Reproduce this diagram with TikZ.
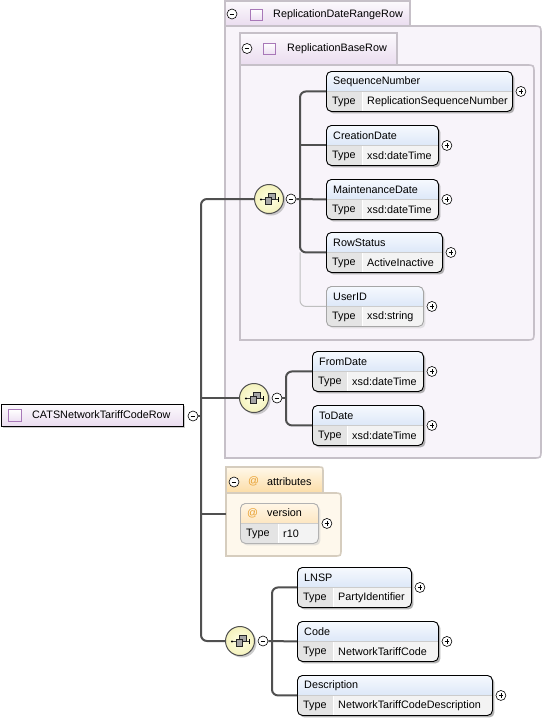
\documentclass[tikz,border=0pt]{standalone}
\usepackage{fontspec}
\setmainfont{Liberation Sans}
\usetikzlibrary{shadows,calc}
\definecolor{conn}{HTML}{505050}
\definecolor{hdtop}{HTML}{F6F9FE}
\definecolor{hdbot}{HTML}{C3D6F2}
\definecolor{typecell}{HTML}{E4E4E4}
\definecolor{valcell}{HTML}{F3F3F3}
\definecolor{attop}{HTML}{FFF6E6}
\definecolor{atbot}{HTML}{FBD69C}
\definecolor{atorange}{HTML}{E8A030}
\definecolor{grpborder}{HTML}{C6C0C8}
\definecolor{grpbody}{HTML}{F8F4FA}
\definecolor{tabtop}{HTML}{FCFAFD}
\definecolor{tabbot}{HTML}{EADCEF}
\definecolor{atgrpborder}{HTML}{D6CDBE}
\definecolor{atgrpbody}{HTML}{FEF8EC}
\definecolor{attabtop}{HTML}{FFF8EA}
\definecolor{attabbot}{HTML}{FCDDA6}
\definecolor{sqborder}{HTML}{A878B8}
\definecolor{sqfill}{HTML}{EDE0F2}
\definecolor{compin}{HTML}{FFFFE6}
\definecolor{compout}{HTML}{F4F2BC}
\tikzset{
  txt/.style={anchor=west, inner sep=0pt, text=black},
  elembase/.style n args={3}{rounded corners=5pt, minimum height=40pt, inner sep=0pt, anchor=north west,
    path picture={
      \fill[sharp corners, top color=#2, bottom color=#3] (path picture bounding box.north west) rectangle (path picture bounding box.east);
      \fill[sharp corners, typecell] (path picture bounding box.west) rectangle ([xshift=#1]path picture bounding box.south west);
      \fill[sharp corners, valcell] ([xshift=#1]path picture bounding box.west) rectangle (path picture bounding box.south east);
      \draw[sharp corners, white, line width=1pt] ([xshift=#1]path picture bounding box.west) -- ([xshift=#1]path picture bounding box.south west);
      \draw[sharp corners, black!20, line width=0.6pt] (path picture bounding box.west) -- (path picture bounding box.east);
    }},
  elem/.style={elembase={#1}{hdtop}{hdbot}, draw=black, line width=0.9pt,
    drop shadow={shadow xshift=2pt, shadow yshift=-2pt, fill=black!50, opacity=0.6}},
  optelem/.style={elembase={#1}{hdtop}{hdbot}, draw=black!35, line width=0.9pt,
    drop shadow={shadow xshift=2pt, shadow yshift=-2pt, fill=black!20, opacity=0.5}},
  attelem/.style={elembase={#1}{attop}{atbot}, draw=black!30, line width=0.9pt,
    drop shadow={shadow xshift=2pt, shadow yshift=-2pt, fill=black!20, opacity=0.5}},
  pm/.style={circle, draw=black, line width=0.6pt, fill=white, minimum size=10pt, inner sep=0pt},
  collapse/.style={pm, path picture={
      \draw[line width=0.7pt] ([xshift=-2.3pt]path picture bounding box.center) -- ([xshift=2.3pt]path picture bounding box.center);}},
  expand/.style={pm, path picture={
      \draw[line width=0.7pt] ([xshift=-2.3pt]path picture bounding box.center) -- ([xshift=2.3pt]path picture bounding box.center);
      \draw[line width=0.7pt] ([yshift=-2.3pt]path picture bounding box.center) -- ([yshift=2.3pt]path picture bounding box.center);}},
  comp/.style={circle, draw=conn, line width=1pt, minimum size=29pt, inner sep=0pt,
    inner color=compin, outer color=compout,
    drop shadow={shadow xshift=2pt, shadow yshift=-2pt, fill=black!40, opacity=0.5}},
  con/.style={draw=conn, line width=2pt, rounded corners=6pt},
  optcon/.style={draw=black!25, line width=1pt, rounded corners=6pt},
  grp/.style={draw=grpborder, line width=1.6pt},
  atgrp/.style={draw=atgrpborder, line width=1.6pt},
  sq/.style={draw=sqborder, line width=0.8pt, minimum width=12pt, minimum height=11pt, inner sep=0pt,
    top color=white, bottom color=sqfill},
}
\newcommand\elembox[8]{%
  \node[#6=#5, minimum width=#4] (#1) at (#2,#3) {};
  \node[txt] (#1-t) at ([xshift=7pt,yshift=10pt]#1.west) {#7};
  \node[txt] (#1-k) at ([xshift=6pt,yshift=-10pt]#1.west) {Type};
  \node[txt] (#1-v) at ([xshift=#5+5pt,yshift=-10pt]#1.west) {#8};
  \node[expand] (#1-p) at ([xshift=8pt]#1.east) {};
}
\newcommand\seqicon[1]{%
  \begin{scope}[shift={(#1.center)}]
    \draw[black!75, line width=0.8pt] (-8,0.5) -- (9,0.5);
    \fill[black] (-8,0.5) circle (1.2);
    \draw[black, line width=0.8pt] (9,-2) -- (9,3);
    \filldraw[fill=black!35, draw=black!85, line width=0.6pt] (-0.5,-6) rectangle (6,0.7);
    \filldraw[fill=black!35, draw=black!85, line width=0.6pt] (-4,-2) rectangle (2.5,5);
  \end{scope}}
\begin{document}
\begin{tikzpicture}[x=1pt, y=-1pt, font=\fontsize{10.8}{12.9}\selectfont]
\useasboundingbox (0,0) rectangle (544,720);
\fill[white] (0,0) rectangle (544,720);

% ---- outer group ReplicationDateRangeRow
\draw[grp, fill=grpbody] (225,26) -- (533,26) .. controls (541,26) .. (541,34) -- (541,450)
   .. controls (541,458) .. (533,458) -- (225,458) -- cycle;
\draw[grp, top color=tabtop, bottom color=tabbot] (225,1) -- (410,1) -- (410,26) -- (225,26) -- cycle;
\node[collapse] (g1m) at (232,14) {};
\node[sq] (g1s) at (256,14.5) {};
\node[txt] (g1t) at (273,14.5) {ReplicationDateRangeRow};

% ---- inner group ReplicationBaseRow
\draw[grp, fill=grpbody] (240,65) -- (526,65) .. controls (534,65) .. (534,73) -- (534,332)
   .. controls (534,340) .. (526,340) -- (240,340) -- cycle;
\draw[grp, top color=tabtop, bottom color=tabbot] (240,33) -- (397,33) -- (397,65) -- (240,65) -- cycle;
\node[collapse] (g2m) at (247,48.5) {};
\node[sq] (g2s) at (269.5,48.5) {};
\node[txt] (g2t) at (287,49) {ReplicationBaseRow};

% ---- attributes group
\draw[atgrp, fill=atgrpbody] (226,493) -- (334,493) .. controls (341,493) .. (341,500) -- (341,549)
   .. controls (341,556) .. (334,556) -- (226,556) -- cycle;
\draw[atgrp, top color=attabtop, bottom color=attabbot] (226,493) -- (226,467) -- (318,467)
   .. controls (323,467) .. (323,472) -- (323,493) -- cycle;
\node[collapse] (g3m) at (234,482) {};
\node[txt, text=atorange] (g3at) at (248,481) {@};
\node[txt] (g3t) at (267,481.5) {attributes};

% ---- root
\node[draw=black, line width=0.9pt, anchor=north west, minimum width=182.5pt, minimum height=22pt,
  inner sep=0pt, top color=tabtop, bottom color=tabbot,
  drop shadow={shadow xshift=2pt, shadow yshift=-2pt, fill=black!40, opacity=0.5}] (root) at (0.5,404) {};
\node[sq, minimum width=13pt, minimum height=12pt] (roots) at (15,415.5) {};
\node[txt] (roott) at (32,415) {CATSNetworkTariffCodeRow};
\node[collapse] (rootm) at (193,416) {};

% ---- compositors
\node[comp] (c1) at (269,199) {};
\node[collapse] (c1m) at (291,199) {};
\seqicon{c1}
\node[comp] (c2) at (254,398) {};
\node[collapse] (c2m) at (277,398) {};
\seqicon{c2}
\node[comp] (c3) at (240,641) {};
\node[collapse] (c3m) at (263,641) {};
\seqicon{c3}

% ---- elements
\elembox{seqn}{326}{71}{186pt}{36pt}{elem}{SequenceNumber}{ReplicationSequenceNumber}
\elembox{creat}{326}{125}{112pt}{36pt}{elem}{CreationDate}{xsd:dateTime}
\elembox{maint}{326}{179}{112pt}{36pt}{elem}{MaintenanceDate}{xsd:dateTime}
\elembox{rowst}{326}{232}{116pt}{36pt}{elem}{RowStatus}{ActiveInactive}
\elembox{userid}{326}{286}{97pt}{36pt}{optelem}{UserID}{xsd:string}
\elembox{fromd}{312}{351}{111pt}{35pt}{elem}{FromDate}{xsd:dateTime}
\elembox{tod}{312}{405}{111pt}{35pt}{elem}{ToDate}{xsd:dateTime}
\elembox{version}{240}{503}{78pt}{38pt}{attelem}{\textcolor{atorange}{@}\hspace{9pt}version}{r10}
\elembox{lnsp}{297}{567}{114pt}{36pt}{elem}{LNSP}{PartyIdentifier}
\elembox{code}{297}{621}{141pt}{36pt}{elem}{Code}{NetworkTariffCode}
\elembox{desc}{297}{675}{195pt}{36pt}{elem}{Description}{NetworkTariffCodeDescription}

% ---- connectors
\coordinate (tk) at (201,416);
\coordinate (attin) at (226,514);
\coordinate (j1) at (300,199);
\coordinate (j2) at (286,398);
\coordinate (j3) at (272,641);
\draw[con] (c1.west) -| (tk) |- (c3.west);
\draw[con] (rootm.east) -- (tk);
\draw[con] (tk |- c2.west) -- (c2.west);
\draw[con] (tk |- attin) -- (attin);

\draw[optcon] (j1 |- rowst.west) |- (userid.west);
\draw[con] (seqn.west) -| (j1) |- (rowst.west);
\draw[con] (c1m.east) -- (maint.west);
\draw[con] (j1 |- creat.west) -- (creat.west);

\draw[con] (fromd.west) -| (j2) |- (tod.west);
\draw[con] (c2m.east) -- (j2);

\draw[con] (lnsp.west) -| (j3) |- (desc.west);
\draw[con] (c3m.east) -- (code.west);
\end{tikzpicture}
\end{document}
